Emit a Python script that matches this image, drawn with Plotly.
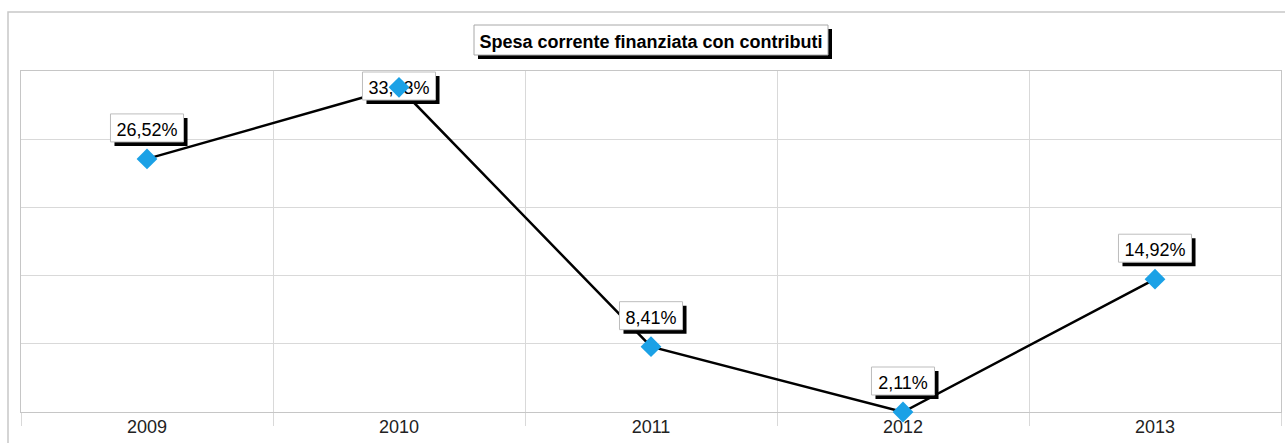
import plotly.graph_objects as go

# Share of current spending financed by contributions, per year
years = ["2009", "2010", "2011", "2012", "2013"]
values = [26.52, 33.43, 8.41, 2.11, 14.92]
title_text = "Spesa corrente finanziata con contributi"

W, H = 1285, 443
M_L, M_R, M_T, M_B = 21, 4, 71, 31
Y_MIN = min(values)
Y_MAX = 35.0
N_GRID = 5

FONT = "Arial, 'Liberation Sans', sans-serif"
BLUE = "#1BA1E6"
GRID = "#d9d9d9"
FRAME = "#c6c6c6"
BOX_EDGE = "#bdbdbd"


def fmt(v):
    return f"{v:.2f}".replace(".", ",") + "%"


# approximate Arial advance widths (em) for sizing the label boxes
ARIAL_W = {d: 0.556 for d in "0123456789"}
ARIAL_W.update({",": 0.278, "%": 0.889})


def text_px(s, size):
    return sum(ARIAL_W.get(c, 0.556) for c in s) * size


plot_w = W - M_L - M_R
plot_h = H - M_T - M_B
px_x = plot_w / len(years)          # pixels per category
ppu = plot_h / (Y_MAX - Y_MIN)      # pixels per y unit

fig = go.Figure()

# connecting line (lower subplot layer)
fig.add_trace(go.Scatter(
    x=years, y=values, mode="lines",
    line=dict(color="black", width=2.5),
    xaxis="x", yaxis="y", cliponaxis=False,
    hoverinfo="skip", showlegend=False,
))

# diamond markers (upper subplot layer, above the value boxes)
fig.add_trace(go.Scatter(
    x=years, y=values, mode="markers",
    marker=dict(symbol="diamond", size=16, color=BLUE, line=dict(width=0)),
    xaxis="x2", yaxis="y2", cliponaxis=False,
    showlegend=False,
))

# value boxes with drop shadow
BOX_H = 28
GAP = 17
SH = 4
for i, v in enumerate(values):
    txt = fmt(v)
    w = text_px(txt, 18) + 12
    room = (Y_MAX - v) * ppu
    b0, b1 = GAP, GAP + BOX_H
    if b1 > room - 1:
        b1 = room - 1
        b0 = b1 - BOX_H
    hx = w / 2 / px_x
    sx = SH / px_x
    y0 = v + b0 / ppu
    y1 = v + b1 / ppu
    sy = SH / ppu
    common = dict(type="rect", xref="x2", yref="y2", layer="between")
    fig.add_shape(**common, x0=i - hx + sx, x1=i + hx + sx, y0=y0 - sy, y1=y1 - sy,
                  fillcolor="black", line=dict(width=0))
    fig.add_shape(**common, x0=i - hx, x1=i + hx, y0=y0, y1=y1,
                  fillcolor="white", line=dict(color=BOX_EDGE, width=1),
                  label=dict(text=txt, font=dict(family=FONT, size=18, color="black"),
                             textposition="middle center", padding=0))

# title box with drop shadow (paper coordinates)
TW, TY0, TY1 = 354, 16, 46
tx0 = 0.5 - TW / 2 / plot_w
tx1 = 0.5 + TW / 2 / plot_w
ty0 = 1 + TY0 / plot_h
ty1 = 1 + TY1 / plot_h
fig.add_shape(type="rect", xref="paper", yref="paper", layer="above",
              x0=tx0 + SH / plot_w, x1=tx1 + SH / plot_w,
              y0=ty0 - SH / plot_h, y1=ty1 - SH / plot_h,
              fillcolor="black", line=dict(width=0))
fig.add_shape(type="rect", xref="paper", yref="paper", layer="above",
              x0=tx0, x1=tx1, y0=ty0, y1=ty1,
              fillcolor="white", line=dict(color="#a8a8a8", width=1),
              label=dict(text="<b>" + title_text + "</b>",
                         font=dict(family=FONT, size=18, color="black"),
                         textposition="middle center", padding=0))

# outer chart frame
fig.add_shape(type="rect", xref="paper", yref="paper", layer="below",
              x0=-13 / plot_w, x1=1 + 30 / plot_w,
              y0=-(M_B + 30) / plot_h, y1=1 + 59 / plot_h,
              fillcolor="rgba(0,0,0,0)", line=dict(color="#c8c8c8", width=1.5))

fig.update_layout(
    width=W, height=H,
    margin=dict(l=M_L, r=M_R, t=M_T, b=M_B),
    paper_bgcolor="white", plot_bgcolor="rgba(0,0,0,0)",
    showlegend=False,
    xaxis=dict(
        type="category", categoryorder="array", categoryarray=years,
        range=[-0.5, len(years) - 0.5],
        tickson="boundaries", ticks="outside", ticklen=13, tickcolor=GRID, tickwidth=1,
        showgrid=True, gridcolor=GRID, gridwidth=1,
        showline=True, linecolor=FRAME, linewidth=1, mirror=True,
        tickfont=dict(family=FONT, size=18, color="#222222"),
        ticklabelstandoff=-2, fixedrange=True,
    ),
    yaxis=dict(
        range=[Y_MIN, Y_MAX], tick0=Y_MIN, dtick=(Y_MAX - Y_MIN) / N_GRID,
        showticklabels=False, ticks="", showgrid=True, gridcolor=GRID, gridwidth=1,
        showline=True, linecolor=FRAME, linewidth=1, mirror=True,
        zeroline=False, fixedrange=True,
    ),
    xaxis2=dict(
        type="category", categoryorder="array", categoryarray=years,
        range=[-0.5, len(years) - 0.5], anchor="y2", visible=False, fixedrange=True,
    ),
    yaxis2=dict(range=[Y_MIN, Y_MAX], anchor="x2", visible=False, fixedrange=True),
)

fig.write_html("out.html")
